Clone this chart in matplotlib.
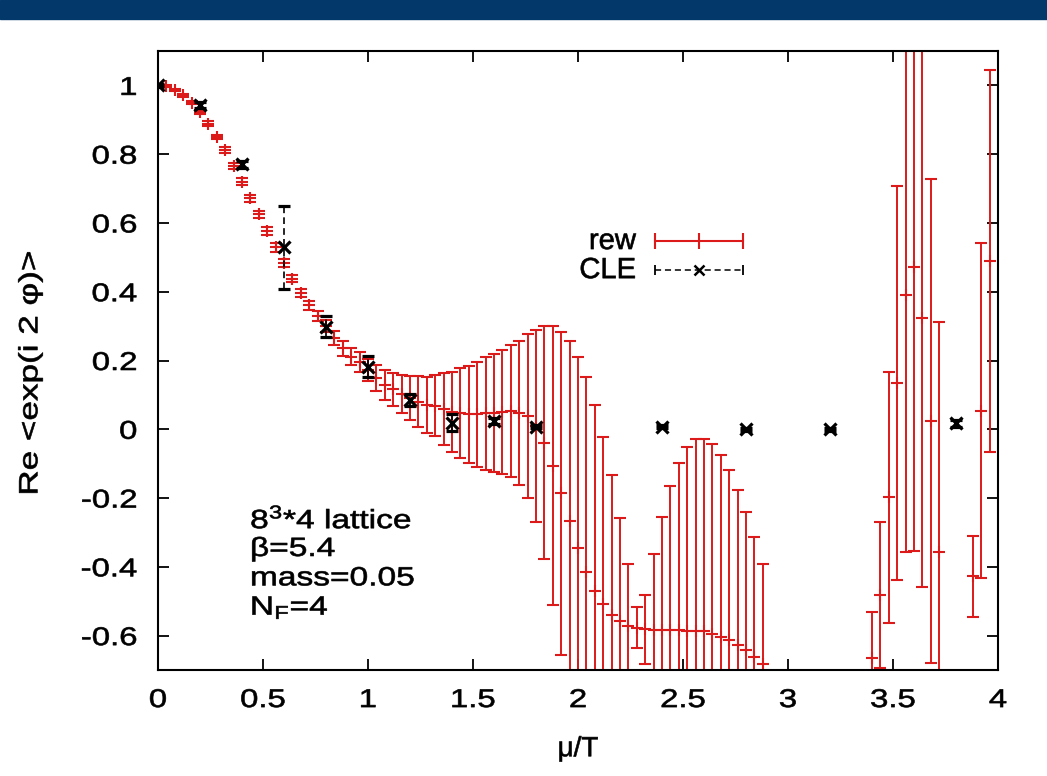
import matplotlib
matplotlib.use("Agg")
import matplotlib.pyplot as plt
from matplotlib.patches import Rectangle
from matplotlib.patheffects import AbstractPathEffect
from matplotlib.transforms import Affine2D

plt.rcParams['font.family'] = ['Liberation Sans', 'DejaVu Sans']
plt.rcParams['mathtext.fontset'] = 'custom'
plt.rcParams['mathtext.rm'] = 'Liberation Sans'
plt.rcParams['mathtext.it'] = 'Liberation Sans:italic'
plt.rcParams['axes.unicode_minus'] = False

# ---- data: reweighting (rew) ----
rew_x = [0.00, 0.04, 0.08, 0.12, 0.16, 0.20, 0.24, 0.28, 0.32, 0.36,
         0.40, 0.44, 0.48, 0.52, 0.56, 0.60, 0.64, 0.68, 0.72, 0.76,
         0.80, 0.84, 0.88, 0.92, 0.96, 1.00, 1.04, 1.08, 1.12, 1.16,
         1.20, 1.24, 1.28, 1.32, 1.36, 1.40, 1.44, 1.48, 1.52, 1.56,
         1.60, 1.64, 1.68, 1.72, 1.76, 1.80, 1.84, 1.88, 1.92, 1.96,
         2.00, 2.04, 2.08, 2.12, 2.16, 2.20, 2.24, 2.28, 2.32, 2.36,
         2.40, 2.44, 2.48, 2.52, 2.56, 2.60, 2.64, 2.68, 2.72, 2.76,
         2.80, 2.84, 2.88, 3.40, 3.44, 3.48, 3.52, 3.56, 3.60, 3.64,
         3.68, 3.72, 3.88, 3.92, 3.96]
rew_y = [1.000, 0.998, 0.986, 0.971, 0.950, 0.923, 0.889, 0.850, 0.812, 0.766,
         0.720, 0.672, 0.625, 0.576, 0.529, 0.483, 0.438, 0.397, 0.361, 0.329,
         0.300, 0.266, 0.235, 0.211, 0.196, 0.172, 0.148, 0.128, 0.116, 0.102,
         0.090, 0.080, 0.070, 0.068, 0.060, 0.050, 0.047, 0.044, 0.043, 0.046,
         0.048, 0.051, 0.053, 0.048, 0.039, 0.010, -0.039, -0.106, -0.186, -0.268,
         -0.345, -0.414, -0.469, -0.509, -0.540, -0.557, -0.572, -0.577, -0.582, -0.584,
         -0.584, -0.584, -0.584, -0.587, -0.587, -0.588, -0.594, -0.603, -0.613, -0.626,
         -0.642, -0.661, -0.683, -0.666, -0.482, -0.198, 0.134, 0.390, 0.471, 0.323,
         0.025, -0.357, -0.428, 0.054, 0.489]
rew_err = [0.002, 0.003, 0.003, 0.004, 0.005, 0.006, 0.006, 0.007, 0.008, 0.009,
           0.010, 0.010, 0.011, 0.012, 0.013, 0.012, 0.011, 0.012, 0.013, 0.015,
           0.018, 0.020, 0.023, 0.025, 0.029, 0.033, 0.038, 0.043, 0.049, 0.055,
           0.064, 0.074, 0.081, 0.089, 0.105, 0.117, 0.130, 0.141, 0.154, 0.163,
           0.171, 0.180, 0.192, 0.210, 0.238, 0.280, 0.338, 0.405, 0.470, 0.525,
           0.556, 0.565, 0.541, 0.486, 0.408, 0.299, 0.181, 0.060, 0.100, 0.220,
           0.330, 0.420, 0.487, 0.535, 0.558, 0.561, 0.552, 0.529, 0.494, 0.449,
           0.401, 0.347, 0.292, 0.136, 0.213, 0.366, 0.572, 0.747, 0.824, 0.783,
           0.704, 0.668, 0.117, 0.487, 0.556]

# ---- data: complex Langevin (CLE) ----
cle_x = [0.0, 0.2, 0.4, 0.6, 0.8, 1.0, 1.2, 1.4, 1.6, 1.8, 2.4, 2.8, 3.2, 3.8]
cle_y = [1.000, 0.943, 0.771, 0.529, 0.298, 0.182, 0.085, 0.019, 0.024, 0.008,
         0.008, 0.000, 0.000, 0.018]
cle_err = [0.004, 0.010, 0.010, 0.120, 0.030, 0.030, 0.017, 0.025, 0.008, 0.005,
           0.005, 0.005, 0.005, 0.010]

xticks = [0, 0.5, 1, 1.5, 2, 2.5, 3, 3.5, 4]
xticklabels = ['0', '0.5', '1', '1.5', '2', '2.5', '3', '3.5', '4']
yticks = [-0.6, -0.4, -0.2, 0, 0.2, 0.4, 0.6, 0.8, 1.0]
yticklabels = ['-0.6', '-0.4', '-0.2', '0', '0.2', '0.4', '0.6', '0.8', '1']

RED = '#dc1a1a'


class Stretch(AbstractPathEffect):
    """Widen text along its baseline around an anchor, with a slight outline
    to mimic the heavy rendering of the original."""

    def __init__(self, sx=1.0, anchor='left', lw=0.45):
        super().__init__()
        self.sx = sx
        self.anchor = anchor
        self.lw = lw

    def draw_path(self, renderer, gc, tpath, affine, rgbFace=None):
        ext = tpath.get_extents()
        a = {'left': ext.x0, 'center': 0.5 * (ext.x0 + ext.x1),
             'right': ext.x1}[self.anchor]
        t = Affine2D().translate(-a, 0).scale(self.sx, 1).translate(a, 0) + affine
        gc0 = renderer.new_gc()
        gc0.copy_properties(gc)
        if rgbFace is not None and self.lw > 0:
            gc0.set_foreground(rgbFace)
            gc0.set_linewidth(self.lw)
            gc0.set_joinstyle('round')
        renderer.draw_path(gc0, tpath, t, rgbFace)
        gc0.restore()


W, H = 1047, 776
fig = plt.figure(figsize=(W / 100, H / 100), dpi=100)
fig.patches.append(Rectangle((0, 1 - 19 / H), 1, 19 / H, transform=fig.transFigure,
                             color='#03386b', zorder=0))

ax = fig.add_axes([158 / W, 1 - 670 / H, 840 / W, 619 / H])

ax.errorbar(rew_x, rew_y, yerr=rew_err, fmt='+', color=RED, ms=9, mew=1.5,
            elinewidth=1.4, capsize=4.5, capthick=1.5, zorder=2)

eb = ax.errorbar(cle_x, cle_y, yerr=cle_err, fmt='x', color='black', ms=8.5, mew=2.3,
                 elinewidth=1.2, capsize=4, capthick=1.4, zorder=4)
for lc in eb[2]:
    lc.set_linestyle((0, (4, 2.5)))

ax.set_xlim(0, 4)
ax.set_ylim(-0.7, 1.1)
ax.set_xticks(xticks)
ax.set_xticklabels(xticklabels)
ax.set_yticks(yticks)
ax.set_yticklabels(yticklabels)
ax.tick_params(direction='in', length=8, width=1.3, top=True, right=True,
               labelsize=18.5)
ax.tick_params(axis='x', pad=13)
ax.tick_params(axis='y', pad=15)
for s in ax.spines.values():
    s.set_linewidth(1.5)
for t in ax.xaxis.get_major_ticks():
    t.label1.set_path_effects([Stretch(1.28, 'center')])
for t in ax.yaxis.get_major_ticks():
    t.label1.set_path_effects([Stretch(1.28, 'right')])

ax.set_xlabel('μ/T', fontsize=20, va='top', path_effects=[Stretch(1.0, 'center')])
ax.xaxis.set_label_coords(0.5, -0.107)
ax.set_ylabel('Re <exp(i 2 φ)>', fontsize=19, va='center',
              path_effects=[Stretch(1.33, 'center')])
ax.yaxis.set_label_coords(-0.152, 0.48)

# legend (manual, gnuplot-style)
tr = ax.transAxes
ax.text(0.569, 0.693, 'rew', transform=tr, ha='right', va='center', fontsize=21,
        path_effects=[Stretch(1.0, 'right')])
ax.text(0.569, 0.646, 'CLE', transform=tr, ha='right', va='center', fontsize=21,
        path_effects=[Stretch(1.0, 'right')])
ax.plot([0.592, 0.697], [0.693, 0.693], transform=tr, color=RED, lw=1.5, clip_on=False)
ax.plot([0.592, 0.6445, 0.697], [0.693] * 3, transform=tr, ls='none', marker='|',
        ms=11, mew=1.5, color=RED, clip_on=False)
ax.plot([0.592, 0.697], [0.646, 0.646], transform=tr, color='black', lw=1.1,
        ls=(0, (4, 2.5)), clip_on=False)
ax.plot([0.592, 0.697], [0.646] * 2, transform=tr, ls='none', marker='|',
        ms=7, mew=1.3, color='black', clip_on=False)
ax.plot([0.6445], [0.646], transform=tr, ls='none', marker='x', ms=7, mew=1.8,
        color='black', clip_on=False)

# annotation
ann = [r'8$^{3}$*4 lattice', 'β=5.4', 'mass=0.05', r'N$_{\mathrm{F}}$=4']
for i, t in enumerate(ann):
    ax.text(0.110, 0.243 - i * 0.0475, t, transform=tr, ha='left', va='center',
            fontsize=19, path_effects=[Stretch(1.27, 'left')])

fig.savefig('out.png', dpi=100)
